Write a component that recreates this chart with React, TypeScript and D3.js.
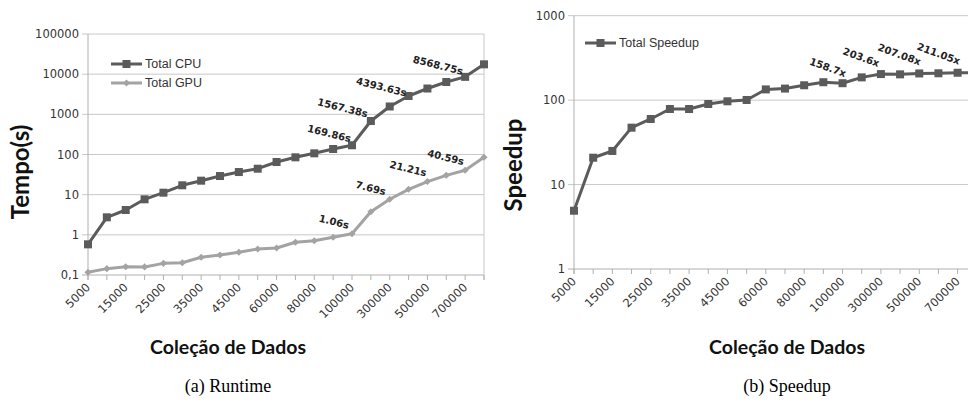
import React from "react";
import * as d3 from "d3";

const categories = [
  "5000", "10000", "15000", "20000", "25000", "30000", "35000", "40000", "45000", "50000",
  "60000", "70000", "80000", "90000", "100000", "200000", "300000", "400000", "500000",
  "600000", "700000", "800000",
];
const labeledEvery = 2;

const cpuTimes = [
  0.58, 2.73, 4.15, 7.66, 11.2, 17.1, 22.3, 29.1, 36.6, 44.3,
  65.0, 85.1, 107, 137, 169.86, 682, 1567.38, 2858, 4393.63, 6383, 8568.75, 17580,
];
const gpuTimes = [
  0.117, 0.144, 0.161, 0.159, 0.195, 0.202, 0.276, 0.315, 0.367, 0.444,
  0.47, 0.652, 0.714, 0.869, 1.06, 3.77, 7.69, 13.6, 21.21, 30.3, 40.59, 85.1,
];
const speedups = [
  4.9, 20.8, 25.0, 47.2, 59.8, 78.5, 78.5, 90.0, 96.9, 100.4,
  134, 137, 150, 163, 158.7, 186, 203.6, 202, 207.08, 208, 211.05, 211,
];

const leftTicks = [0.1, 1, 10, 100, 1000, 10000, 100000];
const leftTickLabels = ["0,1", "1", "10", "100", "1000", "10000", "100000"];
const rightTicks = [1, 10, 100, 1000];
const rightTickLabels = ["1", "10", "100", "1000"];

// annotation: category index, text
const cpuNotes = [
  { i: 14, text: "169.86s" },
  { i: 16, text: "1567.38s" },
  { i: 18, text: "4393.63s" },
  { i: 20, text: "8568.75s" },
];
const gpuNotes = [
  { i: 14, text: "1.06s" },
  { i: 16, text: "7.69s" },
  { i: 18, text: "21.21s" },
  { i: 20, text: "40.59s" },
];
const speedNotes = [
  { i: 14, text: "158.7x" },
  { i: 16, text: "203.6x" },
  { i: 18, text: "207.08x" },
  { i: 20, text: "211.05x" },
];
// label placement offsets (pixels), separate from data
const cpuNoteOffsets = [[-2, -3], [-23, 11], [-22, 8], [-3, -2]];
const gpuNoteOffsets = [[-4, -5], [-5, -4], [-2, -5], [-2, -5]];
const speedNoteOffsets = [[2, -6], [-3, -7], [0, -8], [1, -8]];

const CPU_COLOR = "#5b5b5b";
const GPU_COLOR = "#a3a3a3";
const GRID = "#c8c8c8";
const AXIS = "#b0b0b0";
const TEXT = "#333";

function Chart(props: {
  x0: number; x1: number; yTop: number; yBot: number;
  domain: [number, number]; ticks: number[]; tickLabels: string[];
  frameRight: number;
  series: { values: number[]; color: string; marker: "square" | "diamond"; notes: { i: number; text: string }[]; offsets: number[][]; rot: number }[];
  yTitle: string; yTitleX: number; yTitleY: number;
  xTitleX: number; legend: { x: number; y: number; labels: string[] };
}) {
  const { x0, x1, yTop, yBot, domain, ticks, tickLabels, series } = props;
  const x = d3.scalePoint<string>().domain(categories).range([x0, x1]);
  const y = d3.scaleLog().domain(domain).range([yBot, yTop]);
  const line = d3.line<number>().x((_, i) => x(categories[i])!).y((v) => y(v));
  return (
    <g>
      {ticks.map((t, k) => (
        <g key={"g" + k}>
          <line x1={x0 - 6} x2={props.frameRight} y1={y(t)} y2={y(t)} stroke={k === 0 ? AXIS : GRID} strokeWidth={1} />
          <text x={x0 - 9} y={y(t)} dy="0.35em" textAnchor="end" fontFamily="DejaVu Sans, sans-serif" fontSize={11.5} fill={TEXT}>
            {tickLabels[k]}
          </text>
        </g>
      ))}
      <line x1={x0} x2={x0} y1={yTop} y2={yBot + 5} stroke={AXIS} />
      {props.frameRight < 968 && (
        <line x1={props.frameRight} x2={props.frameRight} y1={yTop} y2={yBot + 5} stroke={GRID} />
      )}
      {categories.map((c, i) => (
        <g key={"xt" + i}>
          <line x1={x(c)} x2={x(c)} y1={yBot} y2={yBot + 5} stroke={AXIS} />
          {i % labeledEvery === 0 && i < categories.length - 1 && (
            <text
              transform={`translate(${x(c)! + 3},${yBot + 13}) rotate(-45)`}
              textAnchor="end"
              fontFamily="DejaVu Sans, sans-serif"
              fontSize={11.5}
              fill={TEXT}
            >
              {c}
            </text>
          )}
        </g>
      ))}
      {series.map((s, si) => (
        <g key={"s" + si}>
          <path d={line(s.values)!} fill="none" stroke={s.color} strokeWidth={3} strokeLinejoin="round" />
          {s.values.map((v, i) =>
            s.marker === "square" ? (
              <rect key={i} x={x(categories[i])! - 4} y={y(v) - 4} width={8} height={8} fill={s.color} />
            ) : (
              <path key={i} d={d3.symbol(d3.symbolDiamond2, 32)()!} transform={`translate(${x(categories[i])},${y(v)})`} fill={s.color} />
            )
          )}
          {s.notes.map((n, k) => (
            <text
              key={"n" + k}
              transform={`translate(${x(categories[n.i])! + s.offsets[k][0]},${y(s.values[n.i]) + s.offsets[k][1]}) rotate(${s.rot})`}
              textAnchor="end"
              fontFamily="DejaVu Sans, sans-serif"
              fontWeight="bold"
              fontSize={10}
              fill="#222"
            >
              {n.text}
            </text>
          ))}
        </g>
      ))}
      {props.legend.labels.map((lab, k) => {
        const ly = props.legend.y + k * 19;
        const s = series[k];
        return (
          <g key={"lg" + k}>
            <line x1={props.legend.x} x2={props.legend.x + 31} y1={ly} y2={ly} stroke={s.color} strokeWidth={3} />
            {s.marker === "square" ? (
              <rect x={props.legend.x + 11.5} y={ly - 4} width={8} height={8} fill={s.color} />
            ) : (
              <path d={d3.symbol(d3.symbolDiamond2, 32)()!} transform={`translate(${props.legend.x + 15.5},${ly})`} fill={s.color} />
            )}
            <text x={props.legend.x + 34} y={ly} dy="0.35em" fontFamily="Liberation Sans, Arial, sans-serif" fontSize={12.5} fill={TEXT}>
              {lab}
            </text>
          </g>
        );
      })}
      <text
        transform={`translate(${props.yTitleX},${props.yTitleY}) rotate(-90)`}
        textAnchor="middle"
        fontFamily="Lato, sans-serif"
        fontWeight="bold"
        fontSize={24}
        fill="#111"
      >
        {props.yTitle}
      </text>
      <text x={props.xTitleX} y={354} textAnchor="middle" fontFamily="Lato, sans-serif" fontWeight="bold" fontSize={19.5} fill="#111">
        Coleção de Dados
      </text>
    </g>
  );
}

export default function App() {
  return (
    <svg width={968} height={403} style={{ position: "absolute", left: 0, top: 0, background: "#fff" }}>
      <rect width={968} height={403} fill="#fff" />
      <Chart
        x0={88} x1={484} yTop={34} yBot={275} domain={[0.1, 100000]}
        ticks={leftTicks} tickLabels={leftTickLabels} frameRight={484}
        series={[
          { values: cpuTimes, color: CPU_COLOR, marker: "square", notes: cpuNotes, offsets: cpuNoteOffsets, rot: 14 },
          { values: gpuTimes, color: GPU_COLOR, marker: "diamond", notes: gpuNotes, offsets: gpuNoteOffsets, rot: 14 },
        ]}
        yTitle="Tempo(s)" yTitleX={29} yTitleY={172} xTitleX={228}
        legend={{ x: 111, y: 64, labels: ["Total CPU", "Total GPU"] }}
      />
      <Chart
        x0={574} x1={976.8} yTop={15.7} yBot={269} domain={[1, 1000]}
        ticks={rightTicks} tickLabels={rightTickLabels} frameRight={968}
        series={[
          { values: speedups, color: CPU_COLOR, marker: "square", notes: speedNotes, offsets: speedNoteOffsets, rot: 20 },
        ]}
        yTitle="Speedup" yTitleX={522} yTitleY={165} xTitleX={787}
        legend={{ x: 585, y: 43, labels: ["Total Speedup"] }}
      />
      <text x={228} y={392} textAnchor="middle" fontFamily="Liberation Serif, Times New Roman, serif" fontSize={18} fill="#000">
        (a) Runtime
      </text>
      <text x={787} y={392} textAnchor="middle" fontFamily="Liberation Serif, Times New Roman, serif" fontSize={18} fill="#000">
        (b) Speedup
      </text>
    </svg>
  );
}
